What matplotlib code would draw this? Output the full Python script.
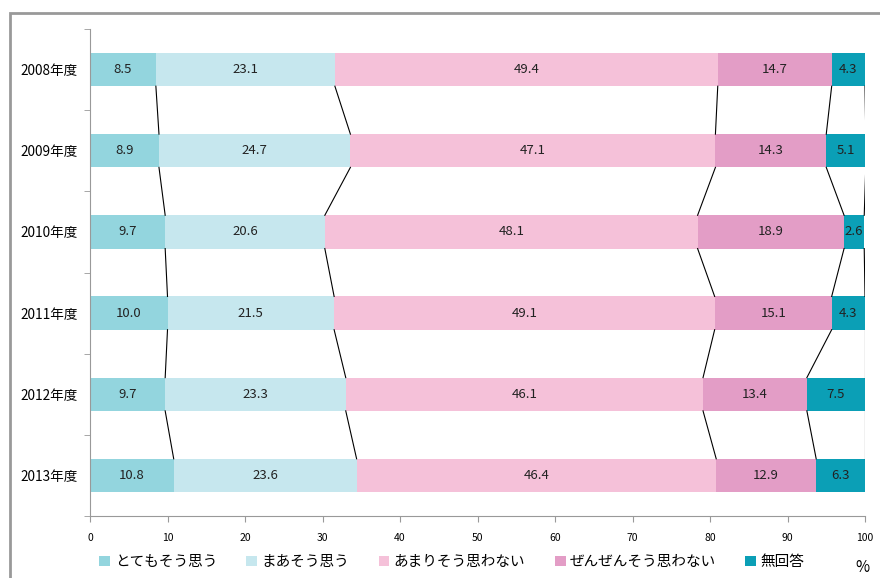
import numpy as np
import matplotlib
matplotlib.use("Agg")
import matplotlib.pyplot as plt
from matplotlib.patches import Rectangle

plt.rcParams['font.family'] = ['Noto Sans CJK JP', 'DejaVu Sans']

# data
years = ["2008年度", "2009年度", "2010年度", "2011年度", "2012年度", "2013年度"]
series = ["とてもそう思う", "まあそう思う", "あまりそう思わない", "ぜんぜんそう思わない", "無回答"]
totemo = [8.5, 8.9, 9.7, 10.0, 9.7, 10.8]
maa = [23.1, 24.7, 20.6, 21.5, 23.3, 23.6]
amari = [49.4, 47.1, 48.1, 49.1, 46.1, 46.4]
zenzen = [14.7, 14.3, 18.9, 15.1, 13.4, 12.9]
mukaitou = [4.3, 5.1, 2.6, 4.3, 7.5, 6.3]
colors = ["#93d5de", "#c6e7ee", "#f5c1d9", "#e39dc6", "#0b9fb6"]

values = np.array([totemo, maa, amari, zenzen, mukaitou])

fig = plt.figure(figsize=(8.8, 5.78), dpi=100)
ax = fig.add_axes([90/880, 1-516/578, 775/880, 487/578])

# outer frame
fig.patches.append(Rectangle((10/880, -0.05), 1.0, 1-13/578+0.05, transform=fig.transFigure,
                             fill=False, edgecolor="#999999", lw=2))

y = np.arange(len(years))
h = 0.41
left = np.zeros(len(years))
for k, name in enumerate(series):
    ax.barh(y, values[k], left=left, height=h, color=colors[k], label=name, zorder=2)
    for i in range(len(years)):
        ax.text(left[i] + values[k][i] / 2, y[i], f"{values[k][i]:.1f}", ha="center", va="center",
                fontsize=9.5, color="#222222", zorder=4)
    left = left + values[k]
    # connector lines between bars
    for i in range(len(years) - 1):
        ax.plot([left[i], left[i+1]], [y[i] + h/2, y[i+1] - h/2], color="black", lw=0.8, zorder=3)

ax.set_xlim(0, 100)
ax.set_ylim(len(years) - 0.5, -0.5)
ax.set_xticks(range(0, 101, 10))
ax.tick_params(axis="x", labelsize=7.5, length=4, color="#999999", pad=8)
ax.set_yticks(y)
ax.set_yticklabels(years, fontsize=9.8)
ax.tick_params(axis="y", length=0, pad=9)
ax.set_yticks(np.arange(-0.5, len(years), 1), minor=True)
ax.tick_params(axis="y", which="minor", length=4, color="#999999")
for s in ["top", "right"]:
    ax.spines[s].set_visible(False)
for s in ["left", "bottom"]:
    ax.spines[s].set_color("#999999")

leg = fig.legend(loc="center", bbox_to_anchor=(452/880, 1-562/578), ncol=5, frameon=False,
                 fontsize=10.5, handlelength=0.75, handleheight=0.75, handletextpad=0.3,
                 columnspacing=2.0)
fig.text(862/880, 1-568/578, "%", fontsize=11, ha="center", va="center")

fig.savefig("out.png", dpi=100)
